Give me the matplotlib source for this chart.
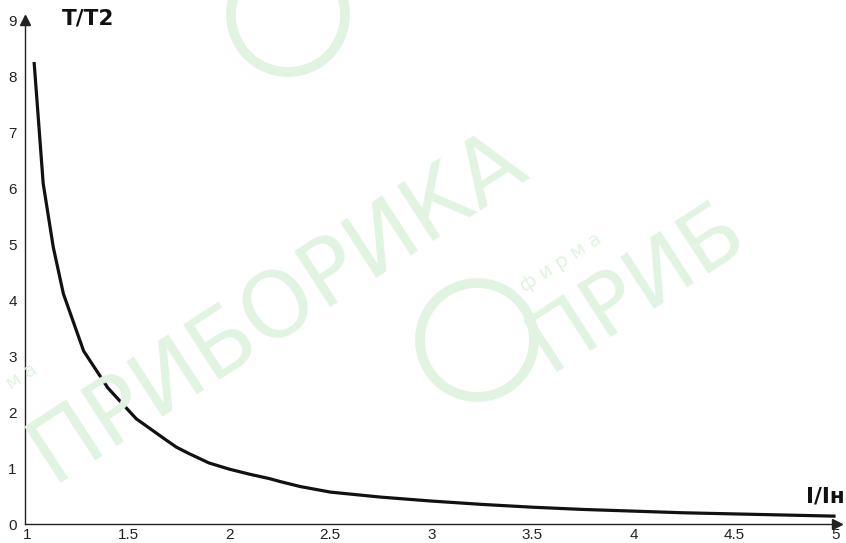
import matplotlib
matplotlib.use("Agg")
import matplotlib.pyplot as plt
from matplotlib.patches import Ellipse

# ---- data ----
x_vals = [1.035, 1.08, 1.13, 1.18, 1.28, 1.40, 1.54, 1.68, 1.74, 1.80, 1.90,
          2.00, 2.10, 2.20, 2.25, 2.35, 2.50, 2.75, 3.00, 3.25, 3.50, 3.75,
          4.00, 4.25, 4.50, 4.75, 5.00]
y_vals = [8.25, 6.08, 4.94, 4.11, 3.09, 2.43, 1.88, 1.52, 1.37, 1.26, 1.09,
          0.98, 0.89, 0.81, 0.76, 0.67, 0.57, 0.48, 0.41, 0.35, 0.30, 0.26,
          0.23, 0.20, 0.18, 0.16, 0.14]
x_ticks = [1, 1.5, 2, 2.5, 3, 3.5, 4, 4.5, 5]
x_tick_labels = ["1", "1.5", "2", "2.5", "3", "3.5", "4", "4.5", "5"]
y_ticks = [0, 1, 2, 3, 4, 5, 6, 7, 8, 9]
y_tick_labels = [str(v) for v in y_ticks]
y_title = "T/T2"
x_title = "I/Iн"
wm_text = "ПРИБОРИКА"
wm_part = "ПРИБ"
wm_small = "ф и р м а"

W, H = 846, 543
plt.rcParams['font.family'] = ['Liberation Sans', 'DejaVu Sans']
fig = plt.figure(figsize=(W / 100, H / 100), dpi=100)
fig.patch.set_facecolor('white')

WM = '#e1f3e1'

def fx(px):
    return px / W

def fy(py):
    return 1 - py / H

# ---- watermark (decorative) ----
ang = 33
def wm(tx, ty, s, size):
    fig.text(fx(tx), fy(ty), s, fontsize=size, color=WM, rotation=ang,
             rotation_mode='anchor', ha='left', va='center', zorder=0,
             family='DejaVu Sans')

def ring(cx, cy, r):
    e = Ellipse((fx(cx), fy(cy)), 2 * r / W, 2 * r / H, transform=fig.transFigure,
                fill=False, ec=WM, lw=7, zorder=0)
    fig.patches.append(e)

wm(38, 462, wm_text, 65)
wm(535, 352, wm_part, 62)
ring(477, 340, 57)
ring(288, 15, 57)
wm(522, 288, wm_small, 14)
wm(8, 385, "м а", 14)

# ---- axes ----
ax = fig.add_axes([fx(25), 19 / H, (837 - 25) / W, (524 - 20) / H])
ax.patch.set_alpha(0)
ax.plot(x_vals, y_vals, color='#111111', lw=2.3, solid_capstyle='butt',
        solid_joinstyle='round', zorder=3)
ax.set_xlim(0.99, 5.007)
ax.set_ylim(0, 9)

for s in ['top', 'right']:
    ax.spines[s].set_visible(False)
for s in ['left', 'bottom']:
    ax.spines[s].set_linewidth(1.0)
    ax.spines[s].set_color('#222222')

ax.plot(1, 0, '>', color='#222222', ms=7, transform=ax.transAxes, clip_on=False)
ax.plot(0, 1, '^', color='#222222', ms=7, transform=ax.transAxes, clip_on=False)

ax.set_xticks(x_ticks)
ax.set_xticklabels(x_tick_labels)
ax.set_yticks(y_ticks)
ax.set_yticklabels(y_tick_labels)
ax.tick_params(axis='both', length=0, labelsize=11, colors='#222222')
ax.tick_params(axis='x', pad=3)
ax.tick_params(axis='y', pad=6)

fig.text(fx(62), fy(18), y_title, fontsize=15.5, fontweight='bold',
         ha='left', va='center', color='#111111', family='DejaVu Sans')
fig.text(fx(845), fy(496), x_title, fontsize=15.5, fontweight='bold',
         ha='right', va='center', color='#111111', family='DejaVu Sans')

fig.savefig('out.png', dpi=100, facecolor='white')
